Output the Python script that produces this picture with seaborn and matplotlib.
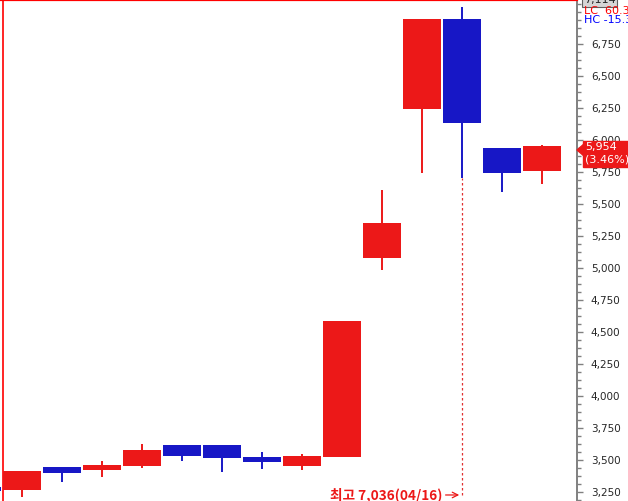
import numpy as np
import matplotlib
matplotlib.use('Agg')
from matplotlib import pyplot as plt
from matplotlib.patches import Polygon
from matplotlib.ticker import FuncFormatter, MultipleLocator
import seaborn as sns

# daily candles (first one is cut off at the left edge)
opens = [3289, 3266, 3446, 3425, 3456, 3618, 3618, 3524, 3456, 3526, 5082, 6243, 6946, 5936, 5756]
highs = [3289, 3414, 3446, 3493, 3626, 3618, 3618, 3563, 3548, 4586, 5607, 6946, 7036, 5936, 5960]
lows = [3258, 3211, 3330, 3370, 3440, 3495, 3409, 3433, 3425, 3526, 4988, 5742, 5703, 5593, 5656]
closes = [3258, 3414, 3396, 3461, 3579, 3534, 3519, 3488, 3532, 4586, 5348, 6946, 6134, 5742, 5954]

yticks = list(range(3250, 7000, 250))
last_price = '5,954'
last_change = '(3.46%)'
top_price = '7,114'
peak_text = '최고 7,036(04/16)'
peak_idx = 12

UP = '#ec1818'
DOWN = '#1717c6'

sns.set_style('white')
plt.rcParams['font.family'] = ['DejaVu Sans']

fig = plt.figure(figsize=(6.28, 5.01), dpi=100)
ax = fig.add_axes([0, 0, 577 / 628, 1])

x = np.arange(len(opens))
o = np.array(opens)
c = np.array(closes)
colors = [UP if cc >= oo else DOWN for oo, cc in zip(opens, closes)]

ax.vlines(x, lows, highs, colors=colors, linewidth=1.4, zorder=2)
ax.bar(x, np.abs(c - o), bottom=np.minimum(o, c), width=0.97, color=colors, zorder=3, linewidth=0)

ax.set_xlim(0.45, 14.875)
ax.set_ylim(3180, 7094)

# right price axis
ax.yaxis.tick_right()
ax.set_yticks(yticks)
ax.yaxis.set_major_formatter(FuncFormatter(lambda v, p: f'{int(v):,}'))
ax.yaxis.set_minor_locator(MultipleLocator(62.5))
ax.tick_params(axis='y', which='major', right=True, length=4, width=1, color='#808080',
               labelsize=7.5, pad=6)
ax.tick_params(axis='y', which='minor', right=True, length=3, width=1, color='#808080')
ax.set_xticks([])

for s in ['left', 'bottom']:
    ax.spines[s].set_visible(False)
ax.spines['right'].set_color('#808080')
ax.spines['right'].set_linewidth(1.4)
ax.spines['top'].set_color('red')
ax.spines['top'].set_linewidth(1.6)
ax.axvline(0.5125, color='red', linewidth=1.2)

# peak marker
ax.vlines(peak_idx, 3227, lows[peak_idx], colors='#e03030', linestyles=(0, (2, 2)), linewidth=0.9)
ax.annotate('', xy=(peak_idx, 3227), xytext=(11.52, 3227),
            arrowprops=dict(arrowstyle='->', color=UP, lw=0.9))
ax.text(11.5, 3227, peak_text, color=UP, fontsize=9.8, fontweight='bold', ha='right', va='center',
        family=['Noto Sans CJK KR', 'DejaVu Sans'])

# top right info
fig.text(584 / 628, 1.0, top_price, fontsize=8, va='center', ha='left',
         bbox=dict(boxstyle='square,pad=0.15', fc='#d6d6d6', ec='#606060', lw=0.8))
fig.text(584 / 628, 1 - 11 / 501, 'LC  60.3', fontsize=8, color='red', va='center', ha='left')
fig.text(584 / 628, 1 - 20 / 501, 'HC -15.3', fontsize=8, color='blue', va='center', ha='left')

# last price label
ytop = 1 - 141 / 501
ybot = 1 - 167 / 501
fig.add_artist(Polygon([[583 / 628, ytop], [628 / 628, ytop], [628 / 628, ybot], [583 / 628, ybot]],
                       closed=True, transform=fig.transFigure, color=UP, zorder=5))
fig.add_artist(Polygon([[577 / 628, 1 - 150 / 501], [584 / 628, 1 - 144 / 501], [584 / 628, 1 - 156 / 501]],
                       closed=True, transform=fig.transFigure, color=UP, zorder=5))
fig.text(585 / 628, 1 - 147 / 501, last_price, fontsize=8, color='white', va='center', ha='left', zorder=6)
fig.text(585 / 628, 1 - 160 / 501, last_change, fontsize=8, color='white', va='center', ha='left', zorder=6)

fig.savefig('out.png', dpi=100)
